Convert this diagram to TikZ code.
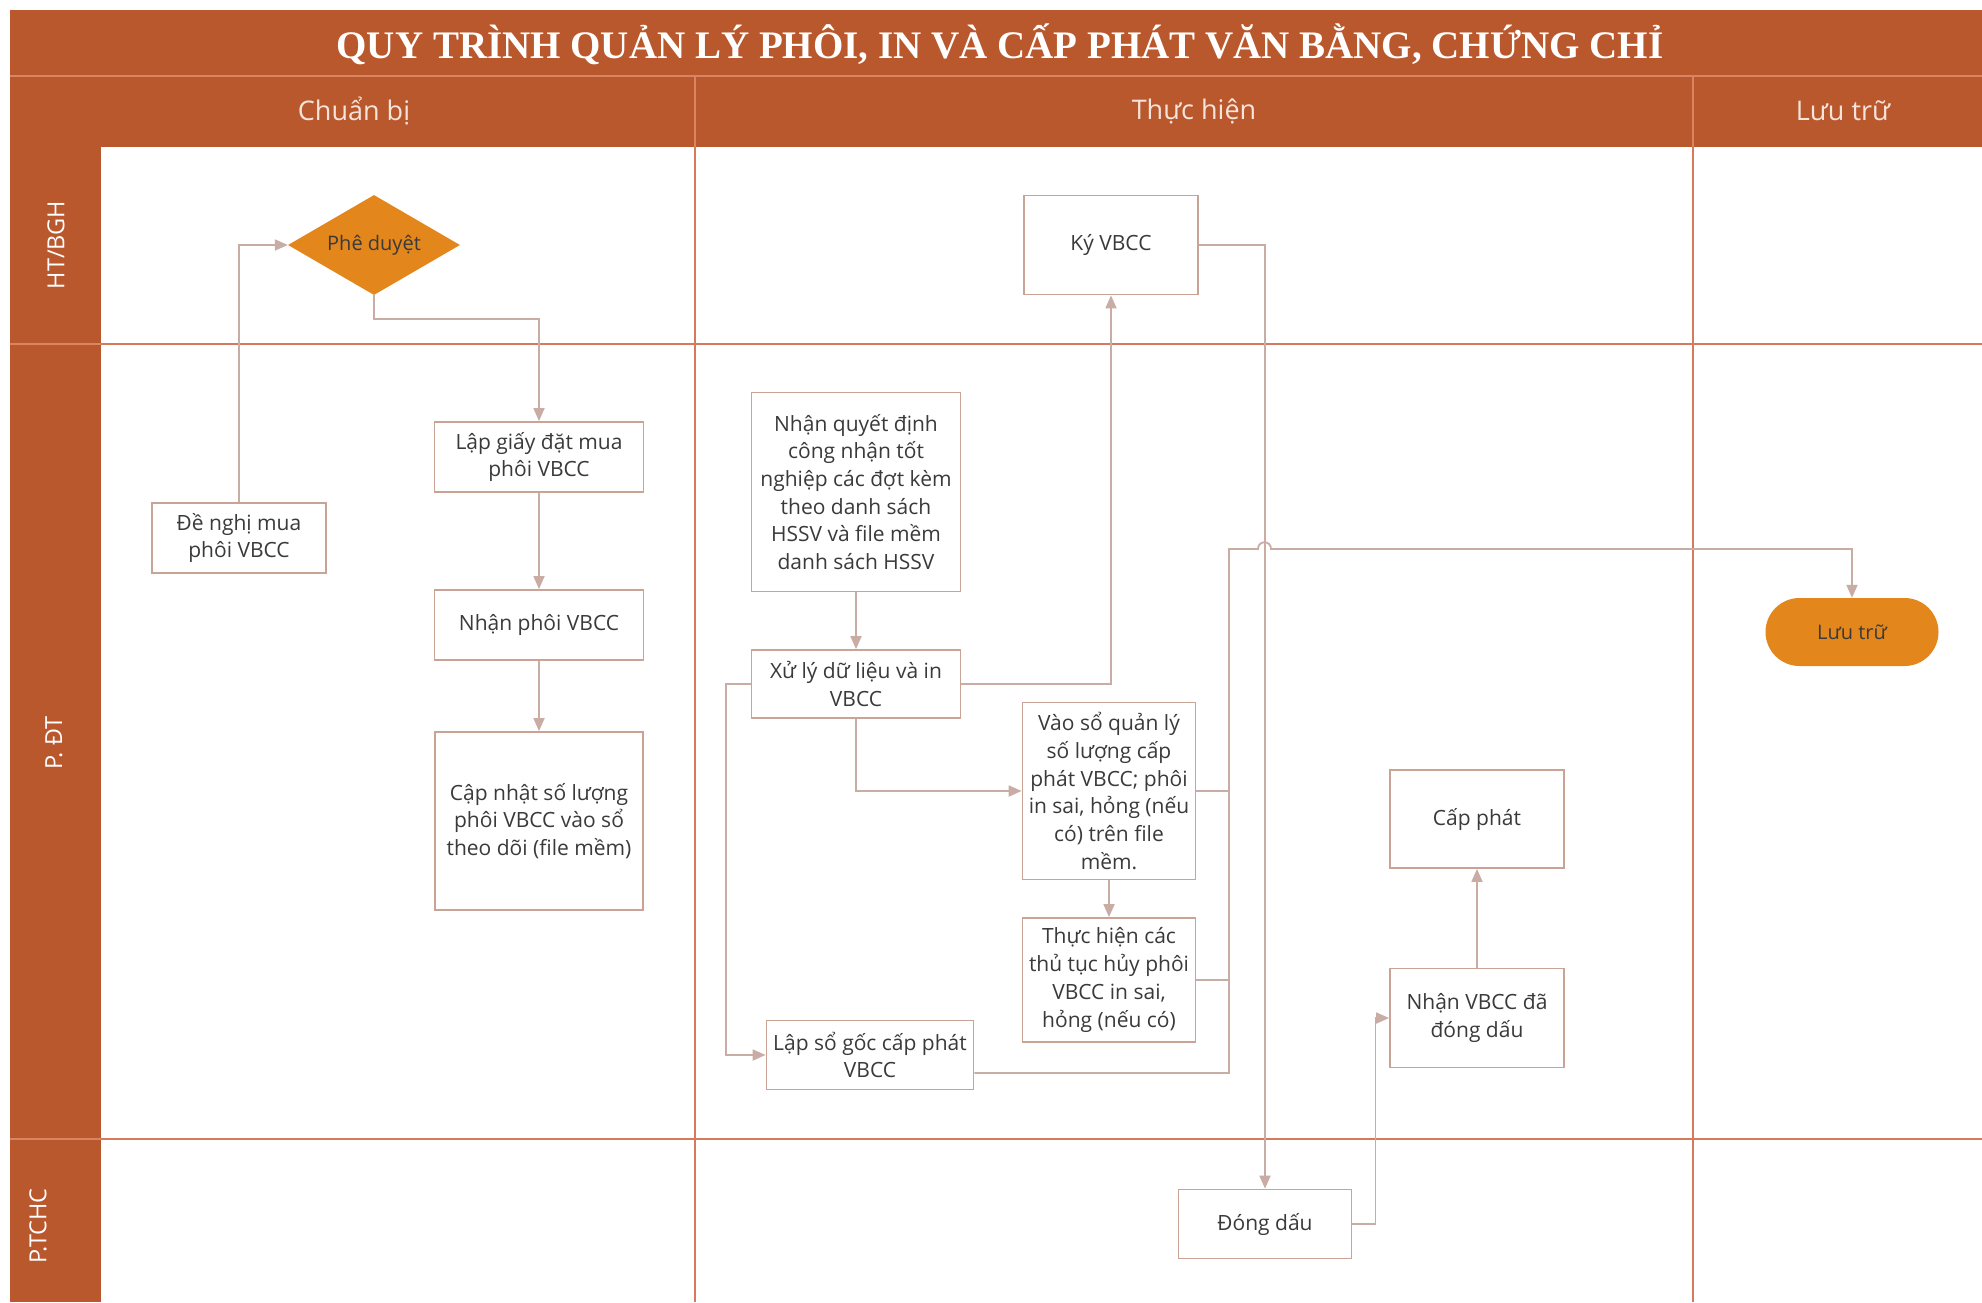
\documentclass[tikz,border=0pt]{standalone}
\usepackage{fontspec}
\setmainfont{Open Sans}
\newfontfamily\titlefont{Liberation Serif}
\usetikzlibrary{arrows.meta,shapes.geometric}
\definecolor{hdr}{HTML}{BA582D}
\definecolor{hdrline}{HTML}{D98463}
\definecolor{laneline}{HTML}{D67A5C}
\definecolor{boxc}{HTML}{C9A496}
\definecolor{connc}{HTML}{C9ACA3}
\definecolor{txt}{HTML}{3A3A3A}
\definecolor{orangefill}{HTML}{E3861B}
\definecolor{hdrtxt}{HTML}{F6E4DA}
\tikzset{
  box/.style={draw=boxc, line width=1.8pt, fill=white, align=center, text=txt,
    inner sep=0pt, font=\fontsize{21}{27.7}\selectfont},
  conn/.style={draw=connc, line width=1.8pt, -{Triangle[length=13pt,width=11pt]}},
  connline/.style={draw=connc, line width=1.8pt},
  gridline/.style={draw=laneline, line width=1.8pt},
  hdrsep/.style={draw=hdrline, line width=1.5pt},
  lanelabel/.style={rotate=90, text=white, font=\fontsize{23.5}{27}\selectfont},
  colhead/.style={text=hdrtxt, font=\fontsize{27}{31}\selectfont}
}
\begin{document}
\begin{tikzpicture}[x=1pt,y=-1pt]
\useasboundingbox (0,0) rectangle (1982,1302);
% background
\fill[white] (0,0) rectangle (1982,1302);
\fill[hdr] (10,10) rectangle (1982,147);
\fill[hdr] (10,147) rectangle (101,1302);
\draw[hdrsep] (10,76) -- (1982,76);
\draw[hdrsep] (695,76) -- (695,147);
\draw[hdrsep] (1693,76) -- (1693,147);
% grid
\draw[gridline] (101,344) -- (1982,344);
\draw[gridline] (101,1139) -- (1982,1139);
\draw[hdrsep] (10,344) -- (101,344);
\draw[hdrsep] (10,1139) -- (101,1139);
\draw[gridline] (695,147) -- (695,1302);
\draw[gridline] (1693,147) -- (1693,1302);
% headings
\node[text=white, font=\titlefont\bfseries\fontsize{39}{44}\selectfont] (title) at (1000,44) {QUY TRÌNH QUẢN LÝ PHÔI, IN VÀ CẤP PHÁT VĂN BẰNG, CHỨNG CHỈ};
\node[colhead] (h1) at (354,111) {Chuẩn bị};
\node[colhead] (h2) at (1194,111) {Thực hiện};
\node[colhead] (h3) at (1843,111) {Lưu trữ};
\node[lanelabel] (l1) at (56,245) {HT/BGH};
\node[lanelabel] (l2) at (54,743) {P. ĐT};
\node[lanelabel] (l3) at (38,1226) {P.TCHC};
% nodes
\node[diamond, fill=orangefill, draw=none, inner sep=0pt, aspect=1.72,
  minimum width=172pt, minimum height=100pt, text=txt,
  font=\fontsize{20}{24}\selectfont] (pheduyet) at (374,245) {Phê duyệt};
\node[box, minimum width=174pt, minimum height=70pt] (denghi) at (239,538) {Đề nghị mua\\phôi VBCC};
\node[box, minimum width=209pt, minimum height=70pt] (lapgiay) at (539,457) {Lập giấy đặt mua\\phôi VBCC};
\node[box, minimum width=209pt, minimum height=70pt] (nhanphoi) at (539,625) {Nhận phôi VBCC};
\node[box, minimum width=208pt, minimum height=178pt] (capnhat) at (539,821) {Cập nhật số lượng\\phôi VBCC vào sổ\\theo dõi (file mềm)};
\node[box, minimum width=209pt, minimum height=199pt] (nhanqd) at (856,492) {Nhận quyết định\\công nhận tốt\\nghiệp các đợt kèm\\theo danh sách\\HSSV và file mềm\\danh sách HSSV};
\node[box, minimum width=209pt, minimum height=68pt] (xuly) at (856,684) {Xử lý dữ liệu và in\\VBCC};
\node[box, minimum width=174pt, minimum height=99pt] (ky) at (1111,245) {Ký VBCC};
\node[box, minimum width=173pt, minimum height=177pt] (vaoso) at (1109,791) {Vào sổ quản lý\\số lượng cấp\\phát VBCC; phôi\\in sai, hỏng (nếu\\có) trên file\\mềm.};
\node[box, minimum width=173pt, minimum height=124pt] (thuchien) at (1109,980) {Thực hiện các\\thủ tục hủy phôi\\VBCC in sai,\\hỏng (nếu có)};
\node[box, minimum width=207pt, minimum height=69pt] (lapso) at (870,1055) {Lập sổ gốc cấp phát\\VBCC};
\node[box, minimum width=173pt, minimum height=69pt] (dongdau) at (1265,1224) {Đóng dấu};
\node[box, minimum width=174pt, minimum height=99pt] (nhanvbcc) at (1477,1018) {Nhận VBCC đã\\đóng dấu};
\node[box, minimum width=174pt, minimum height=98pt] (capphat) at (1477,819) {Cấp phát};
\node[fill=orangefill, draw=none, rounded corners=34pt, minimum width=173pt, minimum height=68pt,
  inner sep=0pt, text=txt, font=\fontsize{20}{24}\selectfont] (luutru) at (1852,632) {Lưu trữ};
% coordinates
\coordinate (busTop) at (1229,549);
\coordinate (busBot) at (1229,1073);
% connectors
\draw[conn] (denghi.north) |- (pheduyet.west);
\draw[conn] (pheduyet.south) -- ++(0,24) -| (lapgiay.north);
\draw[conn] (lapgiay.south) -- (nhanphoi.north);
\draw[conn] (nhanphoi.south) -- (capnhat.north);
\draw[conn] (nhanqd.south) -- (xuly.north);
\draw[conn] (xuly.east) -| (ky.south);
\draw[conn] (xuly.south) |- (vaoso.west);
\draw[conn] (xuly.west) -- ++(-25,0) |- (lapso.west);
\draw[conn] (vaoso.south) -- (thuchien.north);
\draw[conn] (ky.east) -| (dongdau.north);
\draw[conn] (dongdau.east) -- ++(23,0) |- (nhanvbcc.west);
\draw[conn] (nhanvbcc.north) -- (capphat.south);
\draw[connline] (vaoso.east) -- (vaoso.east -| busTop);
\draw[connline] (thuchien.east) -- (thuchien.east -| busTop);
\draw[conn] ([yshift=-18pt]lapso.east) -- (busBot) -- (busTop) -- (1258,549)
  .. controls (1258,540) and (1271,540) .. (1271,549) -| (luutru.north);
\end{tikzpicture}
\end{document}
